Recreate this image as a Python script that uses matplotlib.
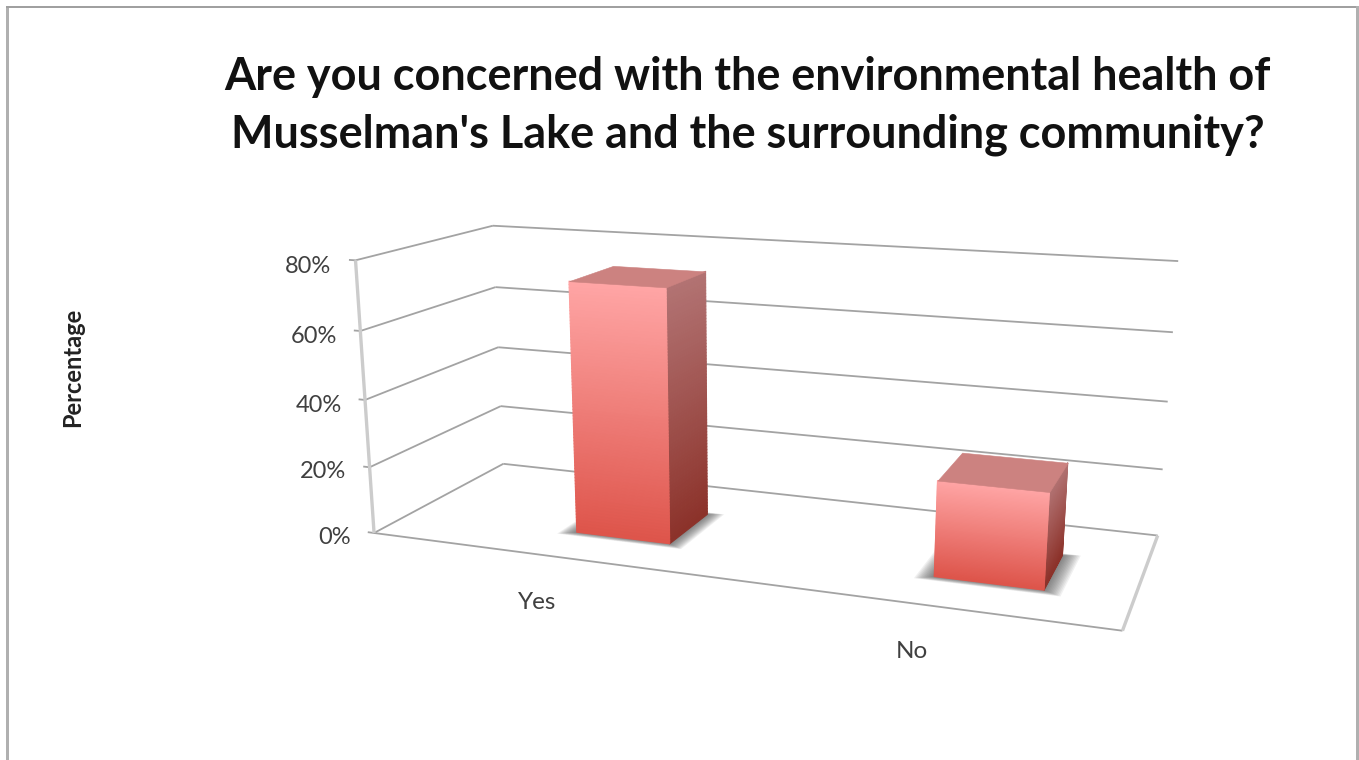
# Excel style 3D column chart
import numpy as np
import matplotlib
matplotlib.use("Agg")
import matplotlib.pyplot as plt
from matplotlib.patches import Rectangle
from mpl_toolkits.mplot3d.art3d import Poly3DCollection, Line3DCollection

categories = ["Yes", "No"]
values = [74, 27]
value_ticks = [0, 20, 40, 60, 80]
tick_labels = ["0%", "20%", "40%", "60%", "80%"]
title_lines = ["Are you concerned with the environmental health of",
               "Musselman's Lake and the surrounding community?"]
y_title = "Percentage"

W, H = 1359, 760
BAR_W = 0.275
BAR_D0, BAR_D1 = 0.275, 0.65
BAR_X = [0.652, 1.648]
LABEL_X = [0.66, 1.58]
LABEL_D = [-0.43, -0.4]

plt.rcParams["font.family"] = ["Lato", "DejaVu Sans"]
fig = plt.figure(figsize=(W / 100, H / 100), dpi=100)
ax = fig.add_axes([0, 0, 1, 1], projection="3d")
ax.set_axis_off()
ax.computed_zorder = False
# keep the axes at full figure size, the camera below handles the shape
ax.apply_aspect = lambda position=None: None

# camera: fitted from where the chart box corners sit in the picture
box_world = [(0, 0, 0), (0, 1, 0), (2, 1, 0), (2, 0, 0), (0, 0, 80), (0, 1, 80), (2, 1, 80),
             (0, 0, 40), (0, 1, 40), (2, 1, 40)]
box_pixel = [(374, 533), (503, 464), (1158, 535), (1122, 631), (355, 260), (493, 226), (1178, 261),
             (366, 400), (498, 347), (1168, 402)]


def fit_camera():
    view = ax.transData.inverted().transform([(px, H - py) for px, py in box_pixel])
    rows = []
    rhs = []
    for (x, y, z), (u, v) in zip(box_world, view):
        rows.append([x, y, z, 1, 0, 0, 0, 0, -u * x, -u * y, -u * z])
        rows.append([0, 0, 0, 0, x, y, z, 1, -v * x, -v * y, -v * z])
        rhs += [u, v]
    p = np.linalg.lstsq(np.array(rows), np.array(rhs), rcond=None)[0]
    return np.array([p[:4], p[4:8], [0, 1, 0, 0], [p[8], p[9], p[10], 1.0]])


M = fit_camera()
ax.get_proj = lambda: M
ax.M = M


def shades(top, bottom, n):
    top = np.array(top) / 255
    bottom = np.array(bottom) / 255
    t = np.linspace(0, 1, n)[:, None]
    return top + (bottom - top) * t


def draw_bar(center, value, order):
    x0, x1 = center - BAR_W / 2, center + BAR_W / 2
    n = 80
    zs = np.linspace(value, 0, n + 1)
    # soft shadow on the floor
    for e in np.linspace(0.045, 0.004, 12):
        sx0, sx1 = x0 - e, x1 + e
        sy0, sy1 = BAR_D0 - e * 0.9, BAR_D1 + e * 0.5
        ax.add_collection3d(Poly3DCollection([[(sx0, sy0, 0), (sx1, sy0, 0), (sx1, sy1, 0), (sx0, sy1, 0)]],
                                             facecolors=(0.25, 0.25, 0.25, 0.075), edgecolors="none", zorder=order))
    # right side
    Y, Z = np.meshgrid([BAR_D0, BAR_D1], zs)
    fc = shades((178, 115, 115), (140, 50, 42), n)[:, None, :]
    ax.plot_surface(np.full_like(Y, x1), Y, Z, facecolors=fc, rstride=1, cstride=1, shade=False,
                    linewidth=0.8, zorder=order + 1)
    # front
    X, Z = np.meshgrid([x0, x1], zs)
    fc = shades((255, 165, 165), (222, 85, 75), n)[:, None, :]
    ax.plot_surface(X, np.full_like(X, BAR_D0), Z, facecolors=fc, rstride=1, cstride=1, shade=False,
                    linewidth=0.8, zorder=order + 2)
    # top
    X, Y = np.meshgrid([x0, x1], [BAR_D0, BAR_D1])
    ax.plot_surface(X, Y, np.full_like(X, value, dtype=float), color=(0.80, 0.51, 0.50), shade=False,
                    linewidth=0.4, edgecolor=(0.80, 0.51, 0.50), zorder=order + 3)


# walls and gridlines
grid_color = "#a3a3a3"
grid_segs = []
for v, lab in zip(value_ticks, tick_labels):
    grid_segs.append([(-0.02, 0, v), (0, 0, v)])
    grid_segs.append([(0, 0, v), (0, 1, v)])
    grid_segs.append([(0, 1, v), (2, 1, v)])
    ax.text(-0.075, 0, v - 2.2, lab, ha="right", va="center", fontsize=17, color="#404040", zorder=20)
grid_segs.append([(0, 0, 0), (2, 0, 0)])
ax.add_collection3d(Line3DCollection(grid_segs, colors=grid_color, linewidths=1.3, zorder=1))
ax.add_collection3d(Line3DCollection([[(0, 0, 0), (0, 0, value_ticks[-1])], [(2, 0, 0), (2, 1, 0)]],
                                     colors="#cccccc", linewidths=2.4, zorder=1))

for i, (name, val) in enumerate(zip(categories, values)):
    draw_bar(BAR_X[i], val, 5 + i * 5)
    ax.text(LABEL_X[i], LABEL_D[i], 0, name, ha="center", va="center", fontsize=17.5, color="#404040", zorder=20)

# title and axis title
fig.text(747 / W, 1 - 90 / H, title_lines[0], ha="center", va="baseline", fontsize=32.4, fontweight="bold", color="#111111")
fig.text(748 / W, 1 - 147 / H, title_lines[1], ha="center", va="baseline", fontsize=32.4, fontweight="bold", color="#111111")
fig.text(73 / W, 1 - 367 / H, y_title, rotation=90, ha="center", va="center", fontsize=17, fontweight="bold", color="#222222")

# picture frame
fig.add_artist(Rectangle((6 / W, 0), 3 / W, 1 - 6 / H, transform=fig.transFigure, color="#b0b0b0", lw=0))
fig.add_artist(Rectangle((6 / W, 1 - 8 / H), 1350 / W, 2 / H, transform=fig.transFigure, color="#a0a0a0", lw=0))
fig.add_artist(Rectangle((1356 / W, 0), 3 / W, 1 - 6 / H, transform=fig.transFigure, color="#b0b0b0", lw=0))

fig.savefig("out.png", dpi=100)
